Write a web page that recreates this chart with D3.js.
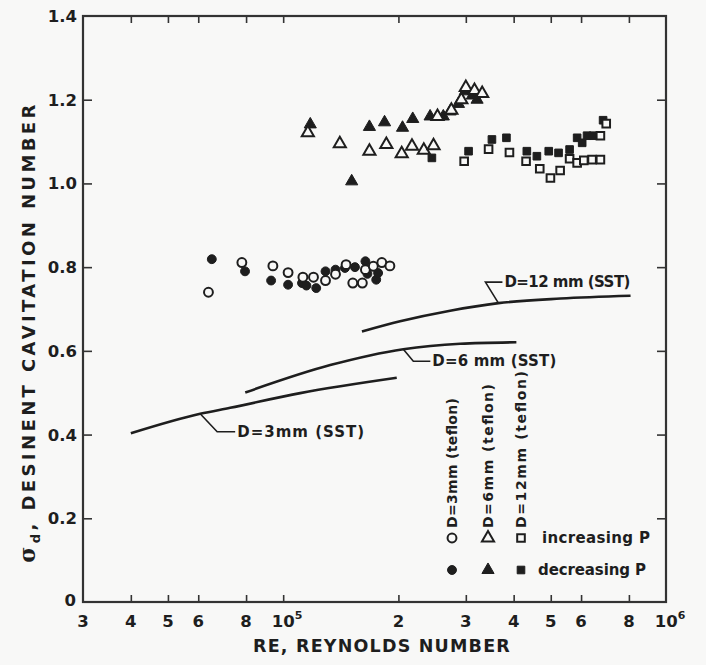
<!DOCTYPE html>
<html>
<head>
<meta charset="utf-8">
<script src="https://cdn.jsdelivr.net/npm/d3@7"></script>
<style>
  html, body { margin: 0; padding: 0; background: #f8f8f7; }
  svg { display: block; }
  text { font-family: "DejaVu Sans", "Liberation Sans", sans-serif; fill: #1e1e1e; font-weight: bold; }
</style>
</head>
<body>
<svg id="chart" width="706" height="665"></svg>
<script>
// ---------- data ----------
const xTickValues = [4e4, 5e4, 6e4, 8e4, 1e5, 2e5, 3e5, 4e5, 5e5, 6e5, 8e5];
const xTickLabels = [
  {v: 3e4, t: "3"}, {v: 4e4, t: "4"}, {v: 5e4, t: "5"}, {v: 6e4, t: "6"}, {v: 8e4, t: "8"},
  {v: 1e5, t: "10", sup: "5"}, {v: 2e5, t: "2"}, {v: 3e5, t: "3"}, {v: 4e5, t: "4"},
  {v: 5e5, t: "5"}, {v: 6e5, t: "6"}, {v: 8e5, t: "8"}, {v: 1e6, t: "10", sup: "6"}
];
const yTickValues = [0, 0.2, 0.4, 0.6, 0.8, 1.0, 1.2, 1.4];
const yTickLabels = ["0", "0.2", "0.4", "0.6", "0.8", "1.0", "1.2", "1.4"];

// D = 3 mm (teflon)
const d3mmIncreasing = [[63800,0.74],[78000,0.811],[94000,0.803],[103000,0.787],[112600,0.776],[120000,0.776],
  [129000,0.768],[137000,0.783],[146000,0.806],[152000,0.762],[161000,0.762],[164000,0.794],[172000,0.802],
  [181000,0.811],[190000,0.803]];
const d3mmDecreasing = [[65100,0.819],[79500,0.79],[93000,0.768],[103000,0.758],[112000,0.762],[115000,0.756],
  [122000,0.75],[129000,0.79],[137000,0.794],[145000,0.798],[154000,0.80],[164000,0.814],[166000,0.784],
  [175000,0.77],[177000,0.786]];
// D = 6 mm (teflon)
const d6mmIncreasing = [[116000,1.121],[140600,1.095],[168000,1.077],[186000,1.093],[204000,1.071],[217000,1.089],
  [233000,1.079],[247000,1.09],[253000,1.16],[275000,1.175],[292000,1.2],[300000,1.229],[316000,1.222],[331000,1.215]];
const d6mmDecreasing = [[117700,1.141],[151000,1.005],[168000,1.135],[184000,1.146],[205000,1.133],[218000,1.154],
  [242000,1.16],[262000,1.16],[273000,1.172],[287000,1.19],[299000,1.22],[312000,1.21],[321000,1.2]];
// D = 12 mm (teflon)
const d12mmIncreasing = [[297000,1.053],[344000,1.082],[390000,1.074],[431000,1.053],[468000,1.035],[499000,1.013],
  [529000,1.031],[560000,1.059],[586000,1.049],[610000,1.055],[641000,1.057],[674000,1.057],[674000,1.114],[698000,1.143]];
const d12mmDecreasing = [[244600,1.061],[305000,1.077],[351000,1.105],[383000,1.109],[433000,1.077],[460000,1.065],
  [494000,1.077],[524000,1.073],[560000,1.081],[586000,1.109],[604000,1.097],[622000,1.114],[645000,1.114],[685000,1.151]];

// SST curves
const sst3mm = [[40000,0.403],[60700,0.4496],[72700,0.464],[110800,0.499],[198000,0.5356]];
const sst6mm = [[79600,0.5005],[132700,0.566],[206000,0.604],[290000,0.617],[406600,0.6205]];
const sst12mm = [[160600,0.6463],[202000,0.6707],[273000,0.696],[365000,0.714],[530000,0.725],[808000,0.7317]];

const curveLabels = [
  {name: "D=3mm (SST)",   curve: sst3mm,  at: 60700,  leader: [[17,18],[35,18]], len: 127},
  {name: "D=6 mm (SST)",  curve: sst6mm,  at: 206000, leader: [[10,12],[27,12]], len: 124},
  {name: "D=12 mm (SST)", curve: sst12mm, at: 365000, leader: [[-13,-21],[4,-21]], len: 126}
];

const legendColumns = ["D=3mm (teflon)", "D=6mm (teflon)", "D=12mm (teflon)"];
const legendColumnLen = [130, 144, 157];
const legendRows = ["increasing P", "decreasing P"];

// ---------- layout ----------
const svg = d3.select("#chart");
const L = 83, R = 666, T = 16, B = 602;
const x = d3.scaleLog().domain([3e4, 1e6]).range([L, R]);
const y = d3.scaleLinear().domain([0, 1.4]).range([B, T]);
const ink = "#1e1e1e";
const bg = "#f8f8f7";

// axes with inward ticks
const gAx = svg.append("g");
const bottomAxis = d3.axisBottom(x).tickValues(xTickValues).tickSize(-7).tickFormat("");
const topAxis = d3.axisTop(x).tickValues(xTickValues).tickSize(-7).tickFormat("");
const leftAxis = d3.axisLeft(y).tickValues(yTickValues.slice(1, -1)).tickSize(-9).tickFormat("");
const rightAxis = d3.axisRight(y).tickValues(yTickValues.slice(1, -1)).tickSize(-9).tickFormat("");
gAx.append("g").attr("transform", `translate(0,${B})`).call(bottomAxis);
gAx.append("g").attr("transform", `translate(0,${T})`).call(topAxis);
gAx.append("g").attr("transform", `translate(${L},0)`).call(leftAxis);
gAx.append("g").attr("transform", `translate(${R},0)`).call(rightAxis);
gAx.selectAll(".domain").remove();
gAx.selectAll(".tick line").attr("stroke", "#333").attr("stroke-width", 1.6);
svg.append("rect").attr("x", L).attr("y", T).attr("width", R - L).attr("height", B - T)
  .attr("fill", "none").attr("stroke", "#333").attr("stroke-width", 2.2);

// tick labels
const xl = svg.append("g").selectAll("text").data(xTickLabels).enter().append("text")
  .attr("x", d => x(d.v) + (d.sup ? 4 : 0)).attr("y", 627)
  .attr("text-anchor", "middle").attr("font-size", 16.5);
xl.append("tspan").text(d => d.t);
xl.filter(d => d.sup).append("tspan").attr("dy", -8).attr("font-size", 11).text(d => d.sup);

svg.append("g").selectAll("text").data(yTickValues).enter().append("text")
  .attr("x", d => d === 0 ? 76 : 77).attr("y", d => y(d) + 6 - (d === 0 ? 2 : 0))
  .attr("text-anchor", "end").attr("font-size", 16.5)
  .text((d, i) => yTickLabels[i]);

// axis titles
svg.append("text").attr("x", 382).attr("y", 652).attr("text-anchor", "middle")
  .attr("font-size", 17.5).attr("letter-spacing", 1.2).text("RE, REYNOLDS NUMBER");
const yt = svg.append("text").attr("transform", "translate(35,332) rotate(-90)")
  .attr("text-anchor", "middle").attr("font-size", 18).attr("letter-spacing", 3.4);
yt.append("tspan").attr("font-family", "DejaVu Serif").attr("font-size", 22).text("σ");
yt.append("tspan").attr("dy", 5).attr("font-size", 13).text("d");
yt.append("tspan").attr("dy", -5).text(", DESINENT CAVITATION NUMBER");

// SST curves
const line = d3.line().x(d => x(d[0])).y(d => y(d[1])).curve(d3.curveMonotoneX);
svg.append("g").selectAll("path").data([sst3mm, sst6mm, sst12mm]).enter().append("path")
  .attr("d", line).attr("fill", "none").attr("stroke", ink).attr("stroke-width", 2.6);

// curve labels with leaders
curveLabels.forEach(c => {
  const p = c.curve.find(d => d[0] === c.at);
  const px = x(p[0]), py = y(p[1]);
  const pts = [[px, py]].concat(c.leader.map(o => [px + o[0], py + o[1]]));
  svg.append("path").attr("d", d3.line()(pts)).attr("fill", "none")
    .attr("stroke", ink).attr("stroke-width", 1.6);
  const end = pts[pts.length - 1];
  svg.append("text").attr("x", end[0] + 2).attr("y", end[1] + 5).attr("font-size", 15)
    .attr("textLength", c.len).attr("lengthAdjust", "spacing").text(c.name);
});

// markers
const sym = {
  circle: d3.symbol().type(d3.symbolCircle).size(62),
  triangle: d3.symbol().type(d3.symbolTriangle).size(64),
  square: d3.symbol().type(d3.symbolSquare).size(58)
};
const series = [
  {data: d3mmDecreasing, s: "circle", filled: true},
  {data: d3mmIncreasing, s: "circle", filled: false},
  {data: d6mmDecreasing, s: "triangle", filled: true},
  {data: d6mmIncreasing, s: "triangle", filled: false},
  {data: d12mmDecreasing, s: "square", filled: true},
  {data: d12mmIncreasing, s: "square", filled: false}
];
series.forEach(sr => {
  svg.append("g").selectAll("path").data(sr.data).enter().append("path")
    .attr("transform", d => `translate(${x(d[0])},${y(d[1])})`)
    .attr("d", sym[sr.s])
    .attr("fill", sr.filled ? ink : bg)
    .attr("stroke", ink).attr("stroke-width", sr.filled ? 1 : 2);
});

// legend
const colX = [452, 488, 521];
const rowY = [538, 570];
legendColumns.forEach((t, i) => {
  svg.append("text").attr("transform", `translate(${colX[i] + 5},528) rotate(-90)`)
    .attr("font-size", 14).attr("textLength", legendColumnLen[i]).attr("lengthAdjust", "spacing").text(t);
});
["circle", "triangle", "square"].forEach((s, i) => {
  rowY.forEach((ry, j) => {
    svg.append("path").attr("transform", `translate(${colX[i]},${ry})`).attr("d", sym[s])
      .attr("fill", j === 1 ? ink : bg).attr("stroke", ink).attr("stroke-width", j === 1 ? 1 : 2);
  });
});
legendRows.forEach((t, j) => {
  svg.append("text").attr("x", j === 0 ? 542 : 538).attr("y", rowY[j] + 5).attr("font-size", 15)
    .attr("textLength", 108).attr("lengthAdjust", "spacing").text(t);
});
</script>
</body>
</html>
